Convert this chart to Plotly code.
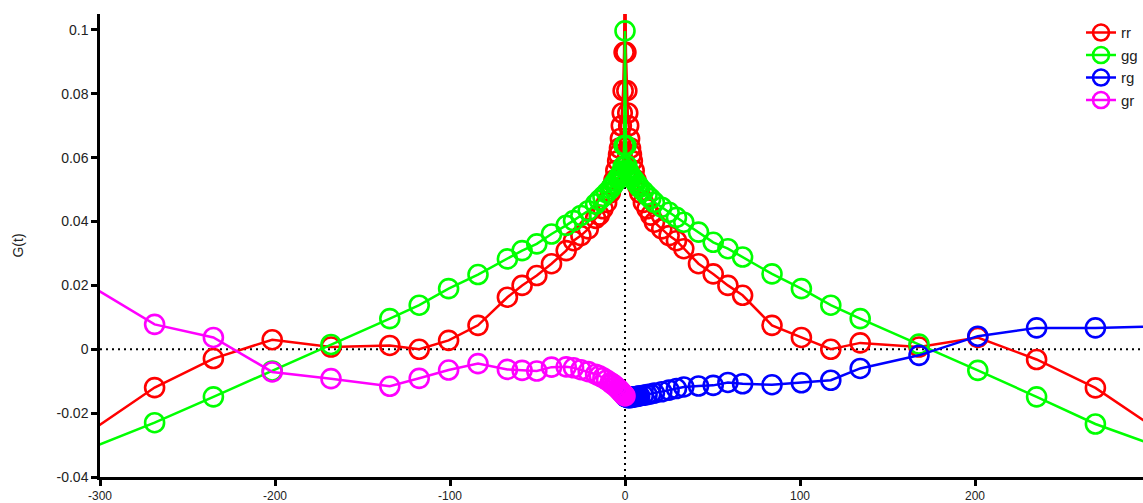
import plotly.graph_objects as go

# Lag values (full symmetric set)
lags_full = [-336.0, -268.8, -235.2, -201.6, -168.0, -134.4, -117.6, -100.8, -84.0, -67.2,
             -58.8, -50.4, -42.0, -33.6, -29.4, -25.2, -21.0, -16.8, -14.7, -12.6,
             -10.5, -8.4, -7.35, -6.3, -5.25, -4.2, -3.675, -3.15, -2.625, -2.1,
             -1.575, -1.05, -0.525, 0.0,
             0.525, 1.05, 1.575, 2.1, 2.625, 3.15, 3.675, 4.2, 5.25, 6.3,
             7.35, 8.4, 10.5, 12.6, 14.7, 16.8, 21.0, 25.2, 29.4, 33.6,
             42.0, 50.4, 58.8, 67.2, 84.0, 100.8, 117.6, 134.4, 168.0, 201.6,
             235.2, 268.8, 336.0]

rr = [-0.037, -0.0120, -0.0029, 0.0030, 0.0007, 0.0012, 0.0000, 0.0028, 0.0075, 0.0163,
      0.0200, 0.0231, 0.0268, 0.0309, 0.0340, 0.0356, 0.0377, 0.0410, 0.0420, 0.0440,
      0.0460, 0.0490, 0.0510, 0.0530, 0.0560, 0.0590, 0.0610, 0.0630, 0.0660, 0.0700,
      0.0740, 0.0810, 0.0930, 0.1300,
      0.0930, 0.0810, 0.0740, 0.0700, 0.0660, 0.0630, 0.0610, 0.0590, 0.0560, 0.0530,
      0.0510, 0.0490, 0.0460, 0.0440, 0.0420, 0.0398, 0.0377, 0.0356, 0.0340, 0.0315,
      0.0268, 0.0236, 0.0200, 0.0169, 0.0075, 0.0037, 0.0000, 0.0020, 0.0007, 0.0037,
      -0.0032, -0.0121, -0.037]

gg = [-0.0376, -0.0230, -0.0149, -0.0068, 0.0015, 0.0096, 0.0138, 0.0190, 0.0234, 0.0283,
      0.0309, 0.0330, 0.0361, 0.0388, 0.0403, 0.0419, 0.0434, 0.0455, 0.0467, 0.0478,
      0.0490, 0.0502, 0.0510, 0.0518, 0.0526, 0.0534, 0.0538, 0.0542, 0.0547, 0.0552,
      0.0558, 0.0572, 0.0638, 0.0997,
      0.0638, 0.0575, 0.0560, 0.0555, 0.0550, 0.0545, 0.0540, 0.0537, 0.0530, 0.0522,
      0.0515, 0.0507, 0.0495, 0.0483, 0.0472, 0.0460, 0.0445, 0.0429, 0.0413, 0.0398,
      0.0367, 0.0335, 0.0315, 0.0289, 0.0236, 0.0190, 0.0138, 0.0096, 0.0016, -0.0066,
      -0.0149, -0.0234, -0.0367]

# rg: zero and positive lags
lags_rg = [0.0, 0.525, 1.05, 1.575, 2.1, 2.625, 3.15, 3.675, 4.2, 5.25, 6.3,
           7.35, 8.4, 10.5, 12.6, 14.7, 16.8, 21.0, 25.2, 29.4, 33.6,
           42.0, 50.4, 58.8, 67.2, 84.0, 100.8, 117.6, 134.4, 168.0, 201.6,
           235.2, 268.8, 336.0]
rg = [-0.0147, -0.0149, -0.0150, -0.0151, -0.0151, -0.0151, -0.0151, -0.0150, -0.0150, -0.0149, -0.0148,
      -0.0147, -0.0146, -0.0144, -0.0142, -0.0140, -0.0137, -0.0133, -0.0128, -0.0123, -0.0118,
      -0.0115, -0.0113, -0.0104, -0.0108, -0.0111, -0.0105, -0.0097, -0.0060, -0.0019, 0.0041,
      0.0067, 0.0067, 0.0075]

# gr: negative and zero lags
lags_gr = [-336.0, -268.8, -235.2, -201.6, -168.0, -134.4, -117.6, -100.8, -84.0, -67.2,
           -58.8, -50.4, -42.0, -33.6, -29.4, -25.2, -21.0, -16.8, -14.7, -12.6,
           -10.5, -8.4, -7.35, -6.3, -5.25, -4.2, -3.675, -3.15, -2.625, -2.1,
           -1.575, -1.05, -0.525, 0.0]
gr = [0.0300, 0.0078, 0.0037, -0.0071, -0.0092, -0.0116, -0.0091, -0.0065, -0.0045, -0.0063,
      -0.0066, -0.0068, -0.0056, -0.0055, -0.0058, -0.0064, -0.0070, -0.0078, -0.0083, -0.0089,
      -0.0096, -0.0104, -0.0108, -0.0112, -0.0117, -0.0122, -0.0125, -0.0128, -0.0131, -0.0134,
      -0.0137, -0.0140, -0.0143, -0.0146]

x_ticks = [-300, -200, -100, 0, 100, 200, 300]
x_ticktext = ["-300", "-200", "-100", "0", "100", "200", "300"]
y_ticks = [-0.04, -0.02, 0, 0.02, 0.04, 0.06, 0.08, 0.1]
y_ticktext = ["-0.04", "-0.02", "0", "0.02", "0.04", "0.06", "0.08", "0.1"]

series = [
    ("rr", lags_full, rr, "#ff0000"),
    ("gg", lags_full, gg, "#00ff00"),
    ("rg", lags_rg, rg, "#0000ff"),
    ("gr", lags_gr, gr, "#ff00ff"),
]

fig = go.Figure()
for name, xs, ys, col in series:
    fig.add_trace(go.Scatter(
        x=xs, y=ys, name=name, mode="lines+markers",
        line=dict(color=col, width=2.5),
        marker=dict(symbol="circle-open", size=19, color=col, line=dict(width=2.6, color=col)),
        cliponaxis=True,
    ))

font_family = "Liberation Sans, Arial, Helvetica, sans-serif"

fig.update_layout(
    width=1143, height=503,
    margin=dict(l=100, r=0, t=14, b=26, autoexpand=False),
    paper_bgcolor="white", plot_bgcolor="white",
    font=dict(family=font_family, size=14, color="#222222"),
    showlegend=True,
    legend=dict(x=1.0, y=0.995, xanchor="right", yanchor="top",
                bgcolor="rgba(255,255,255,0)", font=dict(size=15, color="#222222"),
                tracegroupgap=0, itemsizing="trace"),
    shapes=[
        dict(type="line", xref="paper", yref="y", x0=0, x1=1, y0=0, y1=0,
             line=dict(color="black", width=2, dash="2px,4px"), layer="below"),
        dict(type="line", xref="x", yref="paper", x0=0, x1=0, y0=0, y1=1,
             line=dict(color="black", width=2, dash="2px,4px"), layer="below"),
    ],
)

fig.update_xaxes(
    range=[-300, 296], tickvals=x_ticks, ticktext=x_ticktext, automargin=False,
    showgrid=False, zeroline=False, showline=True, linecolor="black", linewidth=2.5,
    ticks="outside", ticklen=6, tickwidth=2.5, tickcolor="black",
    tickfont=dict(size=12, color="#222222"),
)
fig.update_yaxes(
    range=[-0.04, 0.105], tickvals=y_ticks, ticktext=y_ticktext, automargin=False,
    showgrid=False, zeroline=False, showline=True, linecolor="black", linewidth=2.5,
    ticks="outside", ticklen=6, tickwidth=2.5, tickcolor="black",
    tickfont=dict(size=14, color="#222222"),
    title=dict(text="G(t)", standoff=30, font=dict(size=14, color="#222222")),
)

fig.write_html("out.html")
